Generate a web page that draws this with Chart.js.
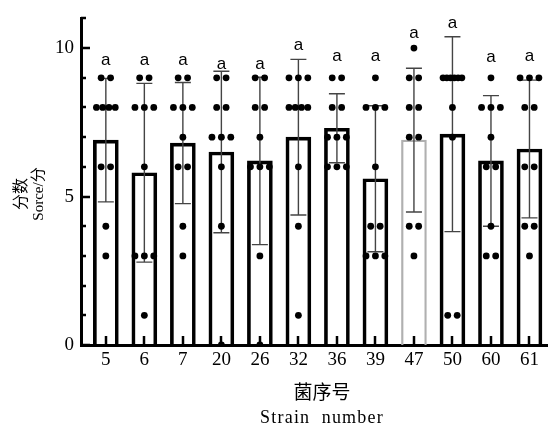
<!DOCTYPE html>
<html>
<head>
<meta charset="utf-8">
<script src="https://cdn.jsdelivr.net/npm/chart.js@4.4.0/dist/chart.umd.min.js"></script>
<style>
html, body { margin: 0; padding: 0; background: #fff; }
</style>
</head>
<body>
<canvas id="grafica-puntos" width="551" height="428"></canvas>
<script>
// categorias (numero de cepa)
var strains = ['5', '6', '7', '20', '26', '32', '36', '39', '47', '50', '60', '61'];

// media y desviacion estandar de cada cepa
var means = [6.9, 5.8, 6.8, 6.5, 6.2, 7.0, 7.3, 5.6, 6.9, 7.1, 6.2, 6.6];
var sds = [2.08, 3.01, 2.04, 2.72, 2.82, 2.62, 1.16, 2.46, 2.42, 3.28, 2.2, 2.32];

// puntuaciones individuales
var s5 = [9, 9, 8, 8, 8, 8, 6, 6, 4, 3];
var s6 = [9, 9, 8, 8, 8, 6, 3, 3, 3, 1];
var s7 = [9, 9, 8, 8, 8, 7, 6, 6, 4, 3];
var s20 = [9, 9, 8, 8, 7, 7, 7, 6, 4, 0];
var s26 = [9, 9, 8, 8, 7, 6, 6, 6, 3, 0];
var s32 = [9, 9, 9, 8, 8, 8, 8, 6, 4, 1];
var s36 = [9, 9, 8, 8, 7, 7, 7, 6, 6, 6];
var s39 = [9, 8, 8, 8, 6, 4, 4, 3, 3, 3];
var s47 = [10, 9, 9, 8, 8, 7, 7, 4, 4, 3];
var s50 = [9, 9, 9, 9, 9, 9, 8, 7, 1, 1];
var s60 = [9, 8, 8, 8, 7, 6, 6, 4, 3, 3];
var s61 = [9, 9, 9, 8, 8, 6, 6, 4, 4, 3];
var puntos = [s5, s6, s7, s20, s26, s32, s36, s39, s47, s50, s60, s61];

// letras de significancia y su altura (en unidades del eje y)
var letters = ['a', 'a', 'a', 'a', 'a', 'a', 'a', 'a', 'a', 'a', 'a', 'a'];
var letterY = [9.6, 9.6, 9.6, 9.45, 9.45, 10.1, 9.75, 9.75, 10.5, 10.85, 9.7, 9.75];

// etiquetas del eje y
var yLabels = [0, 5, 10];
var yMax = 11;

var serif = '"Liberation Serif", "Times New Roman", serif';
var cjk = '"Noto Sans CJK SC", sans-serif';

// puntos dispersos en horizontal cuando comparten el mismo valor
var dots = [];
puntos.forEach(function (vals, i) {
    var grupos = {};
    vals.forEach(function (v) { grupos[v] = (grupos[v] || 0) + 1; });
    Object.keys(grupos).forEach(function (k) {
        var n = grupos[k];
        var paso = n > 1 ? Math.min(9.5, 19 / (n - 1)) / 38.85 : 0;
        for (var j = 0; j < n; j++) {
            dots.push({ x: i + (j - (n - 1) / 2) * paso, y: Number(k) });
        }
    });
});

var barColors = strains.map(function (s) { return s === '47' ? '#b0b0b0' : '#000'; });
var barWidths = strains.map(function (s) { return s === '47' ? 1.6 : 3; });

// barras de error, marcas hacia dentro, letras y titulos
var extras = {
    id: 'extras',
    afterDatasetDraw: function (chart, args) {
        if (args.index !== 0) return;
        var ctx = chart.ctx, x = chart.scales.x, y = chart.scales.y;
        ctx.save();
        ctx.strokeStyle = '#444';
        ctx.lineWidth = 1.4;
        means.forEach(function (m, i) {
            var px = x.getPixelForValue(i);
            var top = y.getPixelForValue(m + sds[i]);
            var bot = y.getPixelForValue(m - sds[i]);
            ctx.beginPath();
            ctx.moveTo(px, top); ctx.lineTo(px, bot);
            ctx.moveTo(px - 8, top); ctx.lineTo(px + 8, top);
            ctx.moveTo(px - 8, bot); ctx.lineTo(px + 8, bot);
            ctx.stroke();
        });
        ctx.restore();
    },
    afterDraw: function (chart) {
        var ctx = chart.ctx, x = chart.scales.x, y = chart.scales.y;
        var area = chart.chartArea;
        ctx.save();
        ctx.strokeStyle = '#000';
        ctx.lineWidth = 2.5;
        ctx.beginPath();
        strains.forEach(function (s, i) {
            var px = Math.round(x.getPixelForValue(i));
            ctx.moveTo(px, area.bottom);
            ctx.lineTo(px, area.bottom - 9);
        });
        for (var v = 0; v <= yMax; v++) {
            var py = Math.round(y.getPixelForValue(v));
            var len = yLabels.indexOf(v) >= 0 ? 9 : 5;
            ctx.moveTo(area.left, py);
            ctx.lineTo(area.left + len, py);
        }
        ctx.stroke();

        // letras
        ctx.fillStyle = '#000';
        ctx.font = '17px "Liberation Sans", Arial, sans-serif';
        ctx.textAlign = 'center';
        ctx.textBaseline = 'alphabetic';
        letters.forEach(function (l, i) {
            ctx.fillText(l, x.getPixelForValue(i), y.getPixelForValue(letterY[i]) + 5);
        });

        // titulo eje x
        ctx.textBaseline = 'middle';
        ctx.font = '19px ' + cjk;
        ctx.fillText('菌序号', 322, 392);
        ctx.font = '18px ' + serif;
        ctx.letterSpacing = '1.2px';
        ctx.fillText('Strain  number', 322, 418);
        ctx.letterSpacing = '0px';

        // titulo eje y
        ctx.translate(20, 194);
        ctx.rotate(-Math.PI / 2);
        ctx.font = '16px ' + cjk;
        ctx.fillText('分数', 0, 0);
        ctx.font = '15px ' + serif + ', ' + cjk;
        ctx.fillText('Sorce/分', 0, 19);
        ctx.restore();
    }
};

var datos = {
    datasets: [{
        type: 'bar',
        data: means.map(function (m, i) { return { x: i, y: m }; }),
        backgroundColor: 'rgba(0,0,0,0)',
        borderColor: barColors,
        borderWidth: barWidths,
        borderSkipped: 'start',
        barThickness: 25,
        order: 2
    }, {
        type: 'scatter',
        data: dots,
        pointRadius: 3.4,
        pointBackgroundColor: '#000',
        pointBorderWidth: 0,
        order: 1
    }]
};

var opciones = {
    responsive: false,
    animation: false,
    devicePixelRatio: 1,
    layout: { padding: { top: 15, right: 0, left: 0, bottom: 0 } },
    plugins: { legend: { display: false }, tooltip: { enabled: false } },
    scales: {
        x: {
            type: 'linear',
            offset: false,
            min: -0.645,
            max: 11.455,
            afterBuildTicks: function (s) { s.ticks = strains.map(function (_, i) { return { value: i }; }); },
            afterFit: function (s) { s.height = 83; },
            grid: { display: false, drawTicks: false, offset: false },
            border: { display: true, color: '#000', width: 3 },
            ticks: {
                autoSkip: false,
                maxRotation: 0,
                padding: 4,
                color: '#000',
                font: { family: serif, size: 19 },
                callback: function (v) { return strains[v]; }
            }
        },
        y: {
            type: 'linear',
            min: 0,
            max: yMax,
            afterBuildTicks: function (s) {
                var t = [];
                for (var v = 0; v <= yMax; v++) t.push({ value: v });
                s.ticks = t;
            },
            afterFit: function (s) { s.width = 81; },
            grid: { display: false, drawTicks: false },
            border: { display: true, color: '#000', width: 3 },
            ticks: {
                padding: 7,
                color: '#000',
                font: { family: serif, size: 19 },
                callback: function (v) { return yLabels.indexOf(v) >= 0 ? v : ''; }
            }
        }
    }
};

var ctx = document.getElementById('grafica-puntos').getContext('2d');
var grafica = new Chart(ctx, {
    type: 'bar',
    data: datos,
    options: opciones,
    plugins: [extras]
});
</script>
</body>
</html>
